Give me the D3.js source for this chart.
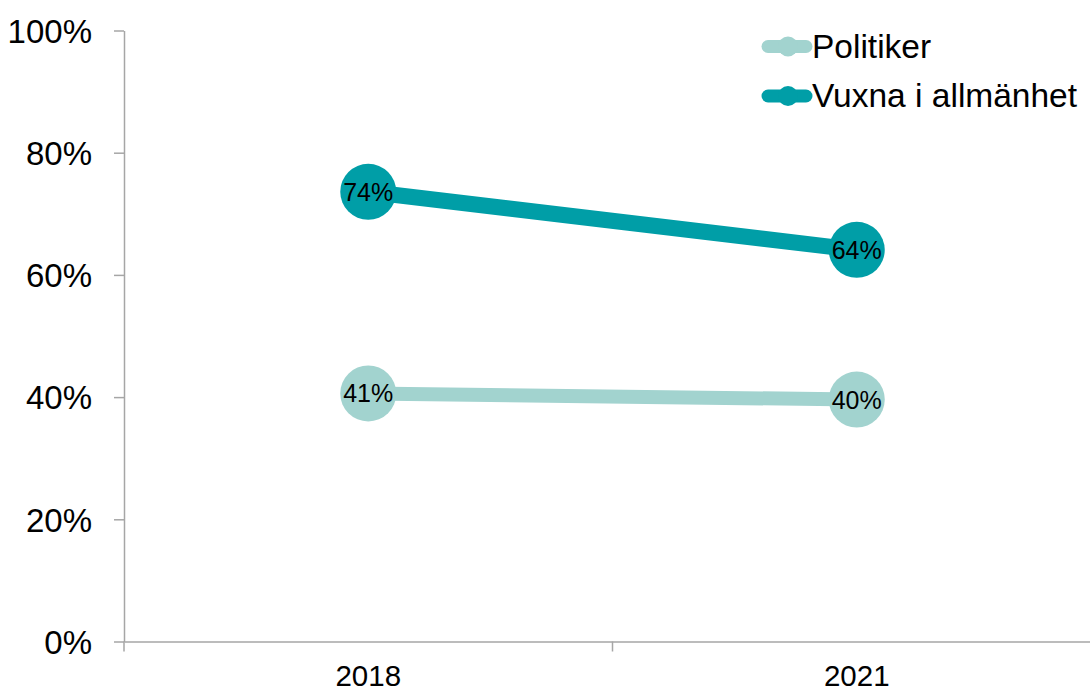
<!DOCTYPE html>
<html><head><meta charset="utf-8">
<script src="https://cdn.jsdelivr.net/npm/d3@7"></script>
<style>body{margin:0;background:#fff;} svg{display:block;font-family:"Liberation Sans",Arial,sans-serif;}</style>
</head><body>
<svg id="c" width="1090" height="688"></svg>
<script>
const categories = ["2018", "2021"];
const seriesNames = ["Politiker", "Vuxna i allmänhet"];
const politiker = [0.406, 0.396];
const vuxna = [0.736, 0.641];
const labelsPolitiker = ["41%", "40%"];
const labelsVuxna = ["74%", "64%"];
const yTicks = [0, 0.2, 0.4, 0.6, 0.8, 1.0];
const colors = ["#A2D3CF", "#009EA7"];

const svg = d3.select("#c");
const mLeft = 124, mRight = 1101, mTop = 30.5, mBottom = 641.5;

const x = d3.scaleBand().domain(categories).range([mLeft, mRight]).paddingInner(0).paddingOuter(0);
const y = d3.scaleLinear().domain([0, 1]).range([mBottom, mTop]);

// y axis
const yAxis = svg.append("g").attr("transform", `translate(${mLeft},0)`)
  .call(d3.axisLeft(y).tickValues(yTicks).tickFormat(d3.format(".0%")).tickSize(10).tickSizeOuter(0));
yAxis.select(".domain").attr("stroke", "#A6A6A6").attr("stroke-width", 1.5);
yAxis.selectAll(".tick line").attr("stroke", "#A6A6A6").attr("stroke-width", 1.5);
yAxis.selectAll(".tick text").attr("font-size", 33).attr("fill", "#000").attr("x", -32)
  .attr("font-family", "Liberation Sans, Arial, sans-serif").attr("dy", "0.36em");

// x axis
const xAxis = svg.append("g").attr("transform", `translate(0,${mBottom})`)
  .call(d3.axisBottom(x).tickSize(0).tickSizeOuter(0));
xAxis.select(".domain").attr("stroke", "#A6A6A6").attr("stroke-width", 1.5);
xAxis.selectAll(".tick text").attr("font-size", 29.5).attr("fill", "#000").attr("y", 44.5)
  .attr("font-family", "Liberation Sans, Arial, sans-serif").attr("dy", "0");
// boundary tick marks between categories
const bounds = [mLeft, x(categories[1]), mRight];
svg.append("g").selectAll("line").data(bounds).join("line")
  .attr("x1", d => d).attr("x2", d => d).attr("y1", mBottom).attr("y2", mBottom + 10)
  .attr("stroke", "#A6A6A6").attr("stroke-width", 1.5);

const cx = c => x(c) + x.bandwidth() / 2;
const series = [
  {name: seriesNames[0], values: politiker, labels: labelsPolitiker, color: colors[0], w: 14},
  {name: seriesNames[1], values: vuxna, labels: labelsVuxna, color: colors[1], w: 16}
];
const line = d3.line().x((d, i) => cx(categories[i])).y(d => y(d));

series.forEach(s => {
  const g = svg.append("g");
  g.append("path").datum(s.values).attr("d", line).attr("fill", "none")
    .attr("stroke", s.color).attr("stroke-width", s.w);
  g.selectAll("circle").data(s.values).join("circle")
    .attr("cx", (d, i) => cx(categories[i])).attr("cy", d => y(d)).attr("r", 28)
    .attr("fill", s.color);
  g.selectAll("text").data(s.values).join("text")
    .attr("x", (d, i) => cx(categories[i])).attr("y", d => y(d)).attr("dy", "0.36em")
    .attr("text-anchor", "middle").attr("font-size", 25).attr("fill", "#000")
    .text((d, i) => s.labels[i]);
});

// legend
const legend = svg.append("g");
series.forEach((s, i) => {
  const ly = 46.5 + i * 49.5;
  legend.append("line").attr("x1", 768).attr("x2", 806).attr("y1", ly).attr("y2", ly)
    .attr("stroke", s.color).attr("stroke-width", 13).attr("stroke-linecap", "round");
  legend.append("circle").attr("cx", 788).attr("cy", ly).attr("r", 10).attr("fill", s.color);
  legend.append("text").attr("x", 812).attr("y", ly + 11).attr("dy", "0")
    .attr("font-size", 33.5).attr("fill", "#000").text(s.name);
});
</script>
</body></html>
